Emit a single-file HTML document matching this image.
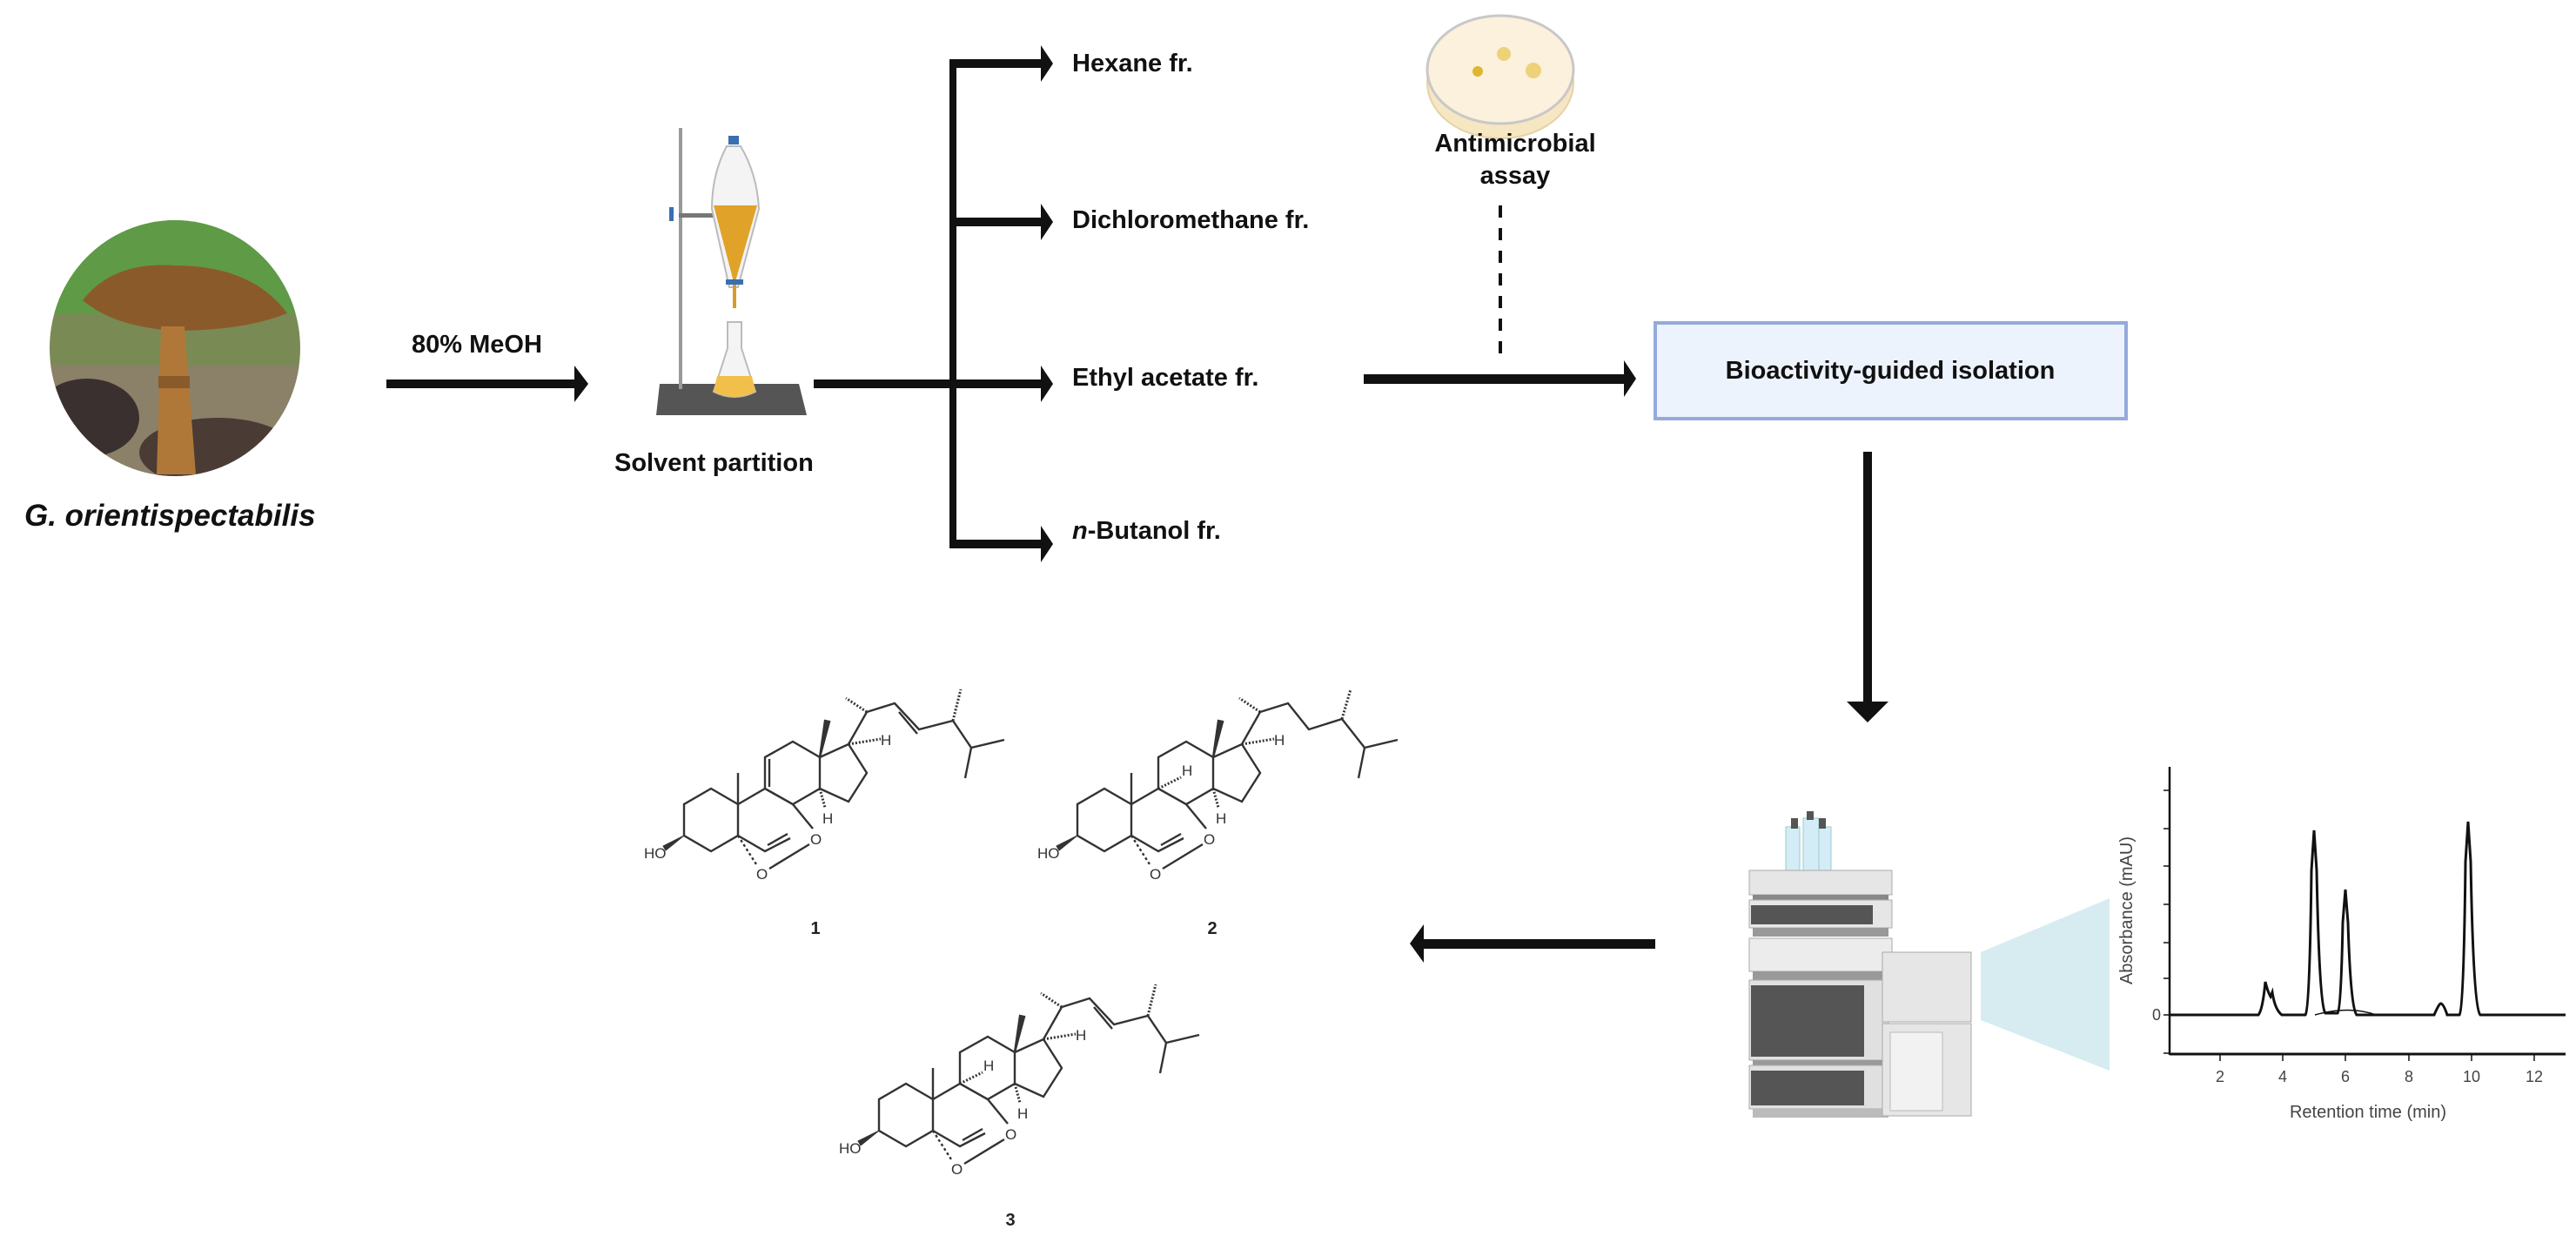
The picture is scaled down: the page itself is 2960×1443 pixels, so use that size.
<!DOCTYPE html>
<html><head><meta charset="utf-8"><style>
html,body{margin:0;padding:0;background:#fff}
svg{display:block}
text{font-family:"Liberation Sans",sans-serif}
.b{font-weight:bold;font-size:29px;fill:#111}
.ch{font-size:17px;fill:#333}
</style></head><body>
<svg width="2960" height="1443" viewBox="0 0 2960 1443" xmlns="http://www.w3.org/2000/svg">
<defs>
<clipPath id="cc"><ellipse cx="201" cy="400" rx="144" ry="147"/></clipPath>
<g id="core" fill="none" stroke="#333" stroke-width="2.4">
  <!-- ring A -->
  <polyline points="848,924 817,906 786,924 786,960 817,978 848,960 848,924"/>
  <!-- ring B -->
  <polyline points="848,924 879,906 911,924"/>
  <polyline points="848,960 879,978 908,963"/>
  <line x1="882" y1="971" x2="905" y2="958"/>
  <!-- ring C -->
  <polyline points="879,906 879,870 911,852 942,870 942,906 911,924 879,906"/>
  <!-- ring D -->
  <polyline points="942,870 975,855 996,888 975,921 942,906"/>
  <!-- methyls -->
  <line x1="848" y1="924" x2="848" y2="888"/>
  <polygon points="942,870 948,828 953,829" fill="#333"/>
  <!-- OH wedge -->
  <polygon points="786,960 762,972 765,977" fill="#333" stroke-width="1"/>
  <!-- peroxide -->
  <line x1="848" y1="960" x2="869" y2="993" stroke-dasharray="3,3"/>
  <line x1="884" y1="998" x2="930" y2="970"/>
  <line x1="911" y1="924" x2="934" y2="952"/>
  <!-- H at C14 -->
  <line x1="942" y1="906" x2="948" y2="928" stroke-dasharray="2,2" stroke-width="3"/>
  <!-- H at C17 -->
  <line x1="975" y1="855" x2="1012" y2="849" stroke-dasharray="2,2" stroke-width="3"/>
  <line x1="975" y1="855" x2="996" y2="818"/>
  <line x1="996" y1="818" x2="972" y2="802" stroke-dasharray="2,2" stroke-width="3"/>
</g>
<g id="chainE" fill="none" stroke="#333" stroke-width="2.4">
  <polyline points="996,818 1028,808 1056,838 1095,828 1116,859 1154,850"/>
  <line x1="1116" y1="859" x2="1109" y2="894"/>
  <line x1="1033" y1="818" x2="1054" y2="843"/>
  <line x1="1095" y1="828" x2="1104" y2="792" stroke-dasharray="2,2" stroke-width="3"/>
</g>
<g id="chainS" fill="none" stroke="#333" stroke-width="2.4">
  <polyline points="996,818 1028,808 1052,838 1090,826 1116,859 1154,850"/>
  <line x1="1116" y1="859" x2="1109" y2="894"/>
  <line x1="1090" y1="826" x2="1100" y2="792" stroke-dasharray="2,2" stroke-width="3"/>
</g>
<g id="lab" class="ch">
  <text x="740" y="986">HO</text>
  <text x="869" y="1010">O</text>
  <text x="931" y="970">O</text>
  <text x="945" y="946">H</text>
  <text x="1012" y="856">H</text>
</g>
</defs>

<!-- mushroom -->
<g clip-path="url(#cc)">
  <rect x="50" y="250" width="310" height="300" fill="#7a8a55"/>
  <rect x="50" y="250" width="310" height="110" fill="#5f9a46"/>
  <rect x="50" y="420" width="310" height="130" fill="#8b8068"/>
  <ellipse cx="100" cy="480" rx="60" ry="45" fill="#3b3030"/>
  <ellipse cx="250" cy="520" rx="90" ry="40" fill="#4a3b35"/>
  <path d="M95 345 Q130 300 200 305 Q290 305 330 360 Q280 380 200 380 Q130 375 95 345Z" fill="#8b5a2b"/>
  <path d="M185 375 L212 375 L225 545 L180 545Z" fill="#b07838"/>
  <rect x="182" y="432" width="36" height="14" fill="#8a5a2a"/>
</g>
<text x="28" y="604" font-size="35" font-weight="bold" font-style="italic" fill="#111">G. orientispectabilis</text>

<!-- 80% MeOH arrow -->
<text x="473" y="405" class="b">80% MeOH</text>
<rect x="444" y="436" width="218" height="10" fill="#111"/>
<polygon points="660,420 676,441 660,462 660,420" fill="#111"/>

<!-- apparatus -->
<polygon points="758,441 918,441 927,477 754,477" fill="#555"/>
<rect x="780" y="147" width="4" height="300" fill="#999"/>
<rect x="780" y="245" width="60" height="5" fill="#777"/>
<rect x="769" y="238" width="5" height="16" fill="#3a6fb0"/>
<rect x="837" y="156" width="12" height="10" fill="#3a6fb0"/>
<path d="M835 168 L851 168 Q870 200 872 240 L848 330 L838 330 L818 240 Q818 200 835 168Z" fill="#f4f4f4" stroke="#bbb" stroke-width="2"/>
<path d="M820 236 L870 236 L846 320 L842 320Z" fill="#e1a22a"/>
<rect x="842" y="320" width="4" height="34" fill="#d89a2a"/>
<rect x="834" y="321" width="20" height="6" fill="#3a6fb0"/>
<path d="M836 370 L852 370 L852 400 L868 450 Q844 462 820 450 L836 400Z" fill="#f4f4f4" stroke="#bbb" stroke-width="2"/>
<path d="M824 432 L864 432 L868 450 Q844 462 820 450Z" fill="#f2c04a"/>
<text x="706" y="541" class="b" font-size="27">Solvent partition</text>

<!-- branches -->
<rect x="935" y="436" width="162" height="10" fill="#111"/>
<rect x="1091" y="68" width="8" height="562" fill="#111"/>
<g fill="#111">
<rect x="1091" y="68" width="107" height="10"/><polygon points="1196,52 1210,73 1196,94"/>
<rect x="1091" y="250" width="107" height="10"/><polygon points="1196,234 1210,255 1196,276"/>
<rect x="1091" y="436" width="107" height="10"/><polygon points="1196,420 1210,441 1196,462"/>
<rect x="1091" y="620" width="107" height="10"/><polygon points="1196,604 1210,625 1196,646"/>
</g>
<text x="1232" y="82" class="b">Hexane fr.</text>
<text x="1232" y="262" class="b">Dichloromethane fr.</text>
<text x="1232" y="443" class="b">Ethyl acetate fr.</text>
<text x="1232" y="619" class="b"><tspan font-style="italic">n</tspan>-Butanol fr.</text>

<!-- petri dish -->
<ellipse cx="1724" cy="95" rx="84" ry="64" fill="#f7e6c2" stroke="#e5d2a6" stroke-width="2"/>
<ellipse cx="1724" cy="80" rx="84" ry="62" fill="#fbf1dc" stroke="#c8c8c8" stroke-width="3"/>
<circle cx="1728" cy="62" r="8" fill="#eed27a"/>
<circle cx="1762" cy="81" r="9" fill="#eed27a"/>
<circle cx="1698" cy="82" r="6" fill="#e0b530"/>
<text x="1741" y="174" text-anchor="middle" class="b" font-size="25">Antimicrobial</text>
<text x="1741" y="211" text-anchor="middle" class="b" font-size="25">assay</text>
<line x1="1724" y1="236" x2="1724" y2="411" stroke="#111" stroke-width="4" stroke-dasharray="14,12"/>

<!-- ethyl -> box arrow -->
<rect x="1567" y="430" width="302" height="11" fill="#111"/>
<polygon points="1866,414 1880,435 1866,456" fill="#111"/>
<rect x="1902" y="371" width="541" height="110" fill="#edf3fc" stroke="#94aadb" stroke-width="4"/>
<text x="2172" y="435" text-anchor="middle" class="b" font-size="28">Bioactivity-guided isolation</text>

<!-- down arrow -->
<rect x="2141" y="519" width="10" height="290" fill="#111"/>
<polygon points="2122,806 2170,806 2146,830" fill="#111"/>

<!-- left arrow -->
<rect x="1632" y="1079" width="270" height="11" fill="#111"/>
<polygon points="1636,1062 1620,1084 1636,1106" fill="#111"/>

<!-- HPLC -->
<g>
<rect x="2052" y="950" width="16" height="52" fill="#d4ecf6" stroke="#9cc" />
<rect x="2072" y="940" width="18" height="62" fill="#d4ecf6" stroke="#9cc"/>
<rect x="2090" y="950" width="14" height="52" fill="#d4ecf6" stroke="#9cc"/>
<rect x="2058" y="940" width="8" height="12" fill="#555"/><rect x="2076" y="932" width="8" height="10" fill="#555"/><rect x="2090" y="940" width="8" height="12" fill="#555"/>
<rect x="2010" y="1000" width="164" height="28" fill="#e6e6e6" stroke="#aaa"/>
<rect x="2014" y="1028" width="156" height="6" fill="#888"/>
<rect x="2010" y="1034" width="164" height="32" fill="#e6e6e6" stroke="#aaa"/>
<rect x="2012" y="1040" width="140" height="22" fill="#555"/>
<rect x="2014" y="1066" width="156" height="10" fill="#999"/>
<rect x="2010" y="1078" width="164" height="38" fill="#ececec" stroke="#aaa"/>
<rect x="2014" y="1116" width="156" height="10" fill="#999"/>
<rect x="2010" y="1126" width="160" height="92" fill="#e0e0e0" stroke="#aaa"/>
<rect x="2012" y="1132" width="130" height="82" fill="#555"/>
<rect x="2014" y="1218" width="156" height="6" fill="#999"/>
<rect x="2010" y="1224" width="160" height="50" fill="#e0e0e0" stroke="#aaa"/>
<rect x="2012" y="1230" width="130" height="40" fill="#555"/>
<rect x="2014" y="1274" width="156" height="10" fill="#bbb"/>
<rect x="2163" y="1094" width="102" height="80" fill="#e6e6e6" stroke="#aaa"/>
<rect x="2163" y="1176" width="102" height="106" fill="#e6e6e6" stroke="#aaa"/>
<rect x="2172" y="1186" width="60" height="90" fill="#f2f2f2" stroke="#bbb"/>
</g>
<polygon points="2276,1094 2424,1032 2424,1230 2276,1172" fill="#d6ecf1"/>

<!-- chromatogram -->
<g stroke="#111" fill="none">
<line x1="2493" y1="881" x2="2493" y2="1212" stroke-width="2.5"/>
<line x1="2493" y1="1211" x2="2948" y2="1211" stroke-width="3"/>
<g stroke-width="1.5">
<line x1="2486" y1="908" x2="2493" y2="908"/><line x1="2486" y1="952" x2="2493" y2="952"/><line x1="2486" y1="995" x2="2493" y2="995"/><line x1="2486" y1="1039" x2="2493" y2="1039"/><line x1="2486" y1="1083" x2="2493" y2="1083"/><line x1="2486" y1="1124" x2="2493" y2="1124"/><line x1="2486" y1="1166" x2="2493" y2="1166"/><line x1="2486" y1="1210" x2="2493" y2="1210"/>
<line x1="2551" y1="1211" x2="2551" y2="1219"/><line x1="2623" y1="1211" x2="2623" y2="1219"/><line x1="2695" y1="1211" x2="2695" y2="1219"/><line x1="2768" y1="1211" x2="2768" y2="1219"/><line x1="2840" y1="1211" x2="2840" y2="1219"/><line x1="2912" y1="1211" x2="2912" y2="1219"/>
</g>
<path stroke-width="3" d="M2493 1166 L2595 1166 Q2600 1160 2603 1128 Q2606 1140 2609 1145 L2611 1140 Q2614 1160 2622 1166 L2649 1166 Q2654 1160 2656 1000 L2659 954 L2662 1000 Q2665 1155 2672 1164 L2686 1164 Q2690 1160 2692 1060 L2695 1022 L2698 1060 Q2701 1158 2708 1166 L2797 1166 Q2803 1152 2805 1153 Q2808 1154 2812 1166 L2826 1166 Q2831 1160 2833 990 L2836 944 L2839 990 Q2842 1158 2850 1166 L2948 1166"/>
<path stroke-width="1.5" d="M2660 1166 Q2700 1155 2730 1166"/>
</g>
<g font-size="18" fill="#444" text-anchor="middle">
<text x="2478" y="1172">0</text>
<text x="2551" y="1243">2</text><text x="2623" y="1243">4</text><text x="2695" y="1243">6</text><text x="2768" y="1243">8</text><text x="2840" y="1243">10</text><text x="2912" y="1243">12</text>
<text x="2721" y="1284" font-size="20">Retention time (min)</text>
<text x="0" y="0" font-size="20" transform="translate(2450,1046) rotate(-90)">Absorbance (mAU)</text>
</g>

<!-- structures -->
<g>
<use href="#core"/><use href="#chainE"/><use href="#lab"/>
<line x1="884" y1="872" x2="884" y2="904" stroke="#333" stroke-width="2.4"/>
<text x="937" y="1073" text-anchor="middle" font-size="20" font-weight="bold" fill="#222">1</text>
</g>
<g transform="translate(452,0)">
<use href="#core"/><use href="#chainS"/><use href="#lab"/>
<line x1="879" y1="906" x2="905" y2="893" stroke="#333" stroke-width="3" stroke-dasharray="2,2"/>
<text x="906" y="891" class="ch">H</text>
<text x="941" y="1073" text-anchor="middle" font-size="20" font-weight="bold" fill="#222">2</text>
</g>
<g transform="translate(224,339)">
<use href="#core"/><use href="#chainE"/><use href="#lab"/>
<line x1="879" y1="906" x2="905" y2="893" stroke="#333" stroke-width="3" stroke-dasharray="2,2"/>
<text x="906" y="891" class="ch">H</text>
<text x="937" y="1069" text-anchor="middle" font-size="20" font-weight="bold" fill="#222">3</text>
</g>
</svg>
</body></html>
